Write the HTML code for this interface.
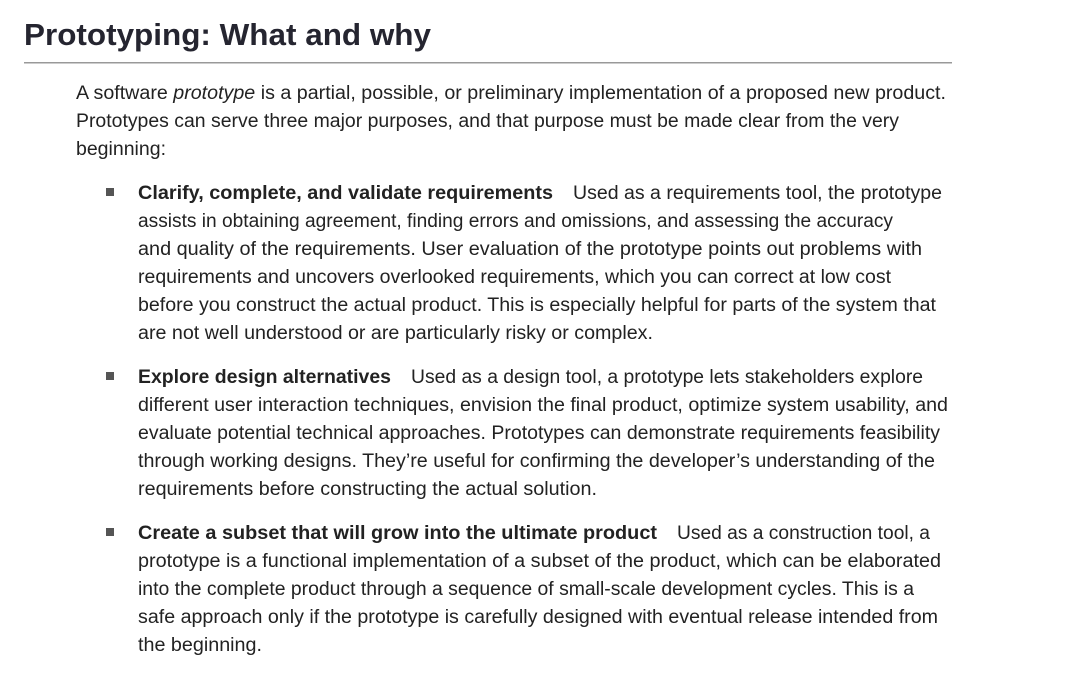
<!DOCTYPE html>
<html><head><meta charset="utf-8"><style>
html,body{margin:0;padding:0;background:#fff;width:1069px;height:680px;overflow:hidden}
svg{display:block}
text{font-family:"Liberation Sans",sans-serif;fill:#222}
.b{font-size:19px}
.h{font-size:31px;font-weight:bold;fill:#252530}
.bd{font-weight:bold}
</style></head><body>
<svg width="1069" height="680" xmlns="http://www.w3.org/2000/svg">
<text class="h" x="24" y="45" textLength="407" lengthAdjust="spacingAndGlyphs">Prototyping: What and why</text>
<rect x="24" y="62" width="928" height="1.5" fill="#999"/>
<g class="b">
<text x="76" y="99" textLength="870" lengthAdjust="spacingAndGlyphs">A software <tspan font-style="italic">prototype</tspan> is a partial, possible, or preliminary implementation of a proposed new product.</text>
<text x="76" y="127" textLength="823" lengthAdjust="spacingAndGlyphs">Prototypes can serve three major purposes, and that purpose must be made clear from the very</text>
<text x="76" y="155" textLength="90" lengthAdjust="spacingAndGlyphs">beginning:</text>

<rect x="106" y="188" width="8" height="8" fill="#555"/>
<text x="138" y="199" textLength="415" lengthAdjust="spacingAndGlyphs" class="bd">Clarify, complete, and validate requirements</text>
<text x="573" y="199" textLength="369" lengthAdjust="spacingAndGlyphs">Used as a requirements tool, the prototype</text>
<text x="138" y="227" textLength="755" lengthAdjust="spacingAndGlyphs">assists in obtaining agreement, finding errors and omissions, and assessing the accuracy</text>
<text x="138" y="255" textLength="784" lengthAdjust="spacingAndGlyphs">and quality of the requirements. User evaluation of the prototype points out problems with</text>
<text x="138" y="283" textLength="753" lengthAdjust="spacingAndGlyphs">requirements and uncovers overlooked requirements, which you can correct at low cost</text>
<text x="138" y="311" textLength="798" lengthAdjust="spacingAndGlyphs">before you construct the actual product. This is especially helpful for parts of the system that</text>
<text x="138" y="339" textLength="515" lengthAdjust="spacingAndGlyphs">are not well understood or are particularly risky or complex.</text>

<rect x="106" y="372" width="8" height="8" fill="#555"/>
<text x="138" y="383" textLength="253" lengthAdjust="spacingAndGlyphs" class="bd">Explore design alternatives</text>
<text x="411" y="383" textLength="512" lengthAdjust="spacingAndGlyphs">Used as a design tool, a prototype lets stakeholders explore</text>
<text x="138" y="411" textLength="810" lengthAdjust="spacingAndGlyphs">different user interaction techniques, envision the final product, optimize system usability, and</text>
<text x="138" y="439" textLength="802" lengthAdjust="spacingAndGlyphs">evaluate potential technical approaches. Prototypes can demonstrate requirements feasibility</text>
<text x="138" y="467" textLength="797" lengthAdjust="spacingAndGlyphs">through working designs. They’re useful for confirming the developer’s understanding of the</text>
<text x="138" y="495" textLength="459" lengthAdjust="spacingAndGlyphs">requirements before constructing the actual solution.</text>

<rect x="106" y="528" width="8" height="8" fill="#555"/>
<text x="138" y="539" textLength="519" lengthAdjust="spacingAndGlyphs" class="bd">Create a subset that will grow into the ultimate product</text>
<text x="677" y="539" textLength="253" lengthAdjust="spacingAndGlyphs">Used as a construction tool, a</text>
<text x="138" y="567" textLength="803" lengthAdjust="spacingAndGlyphs">prototype is a functional implementation of a subset of the product, which can be elaborated</text>
<text x="138" y="595" textLength="776" lengthAdjust="spacingAndGlyphs">into the complete product through a sequence of small-scale development cycles. This is a</text>
<text x="138" y="623" textLength="800" lengthAdjust="spacingAndGlyphs">safe approach only if the prototype is carefully designed with eventual release intended from</text>
<text x="138" y="651" textLength="124" lengthAdjust="spacingAndGlyphs">the beginning.</text>
</g>
</svg>
</body></html>
